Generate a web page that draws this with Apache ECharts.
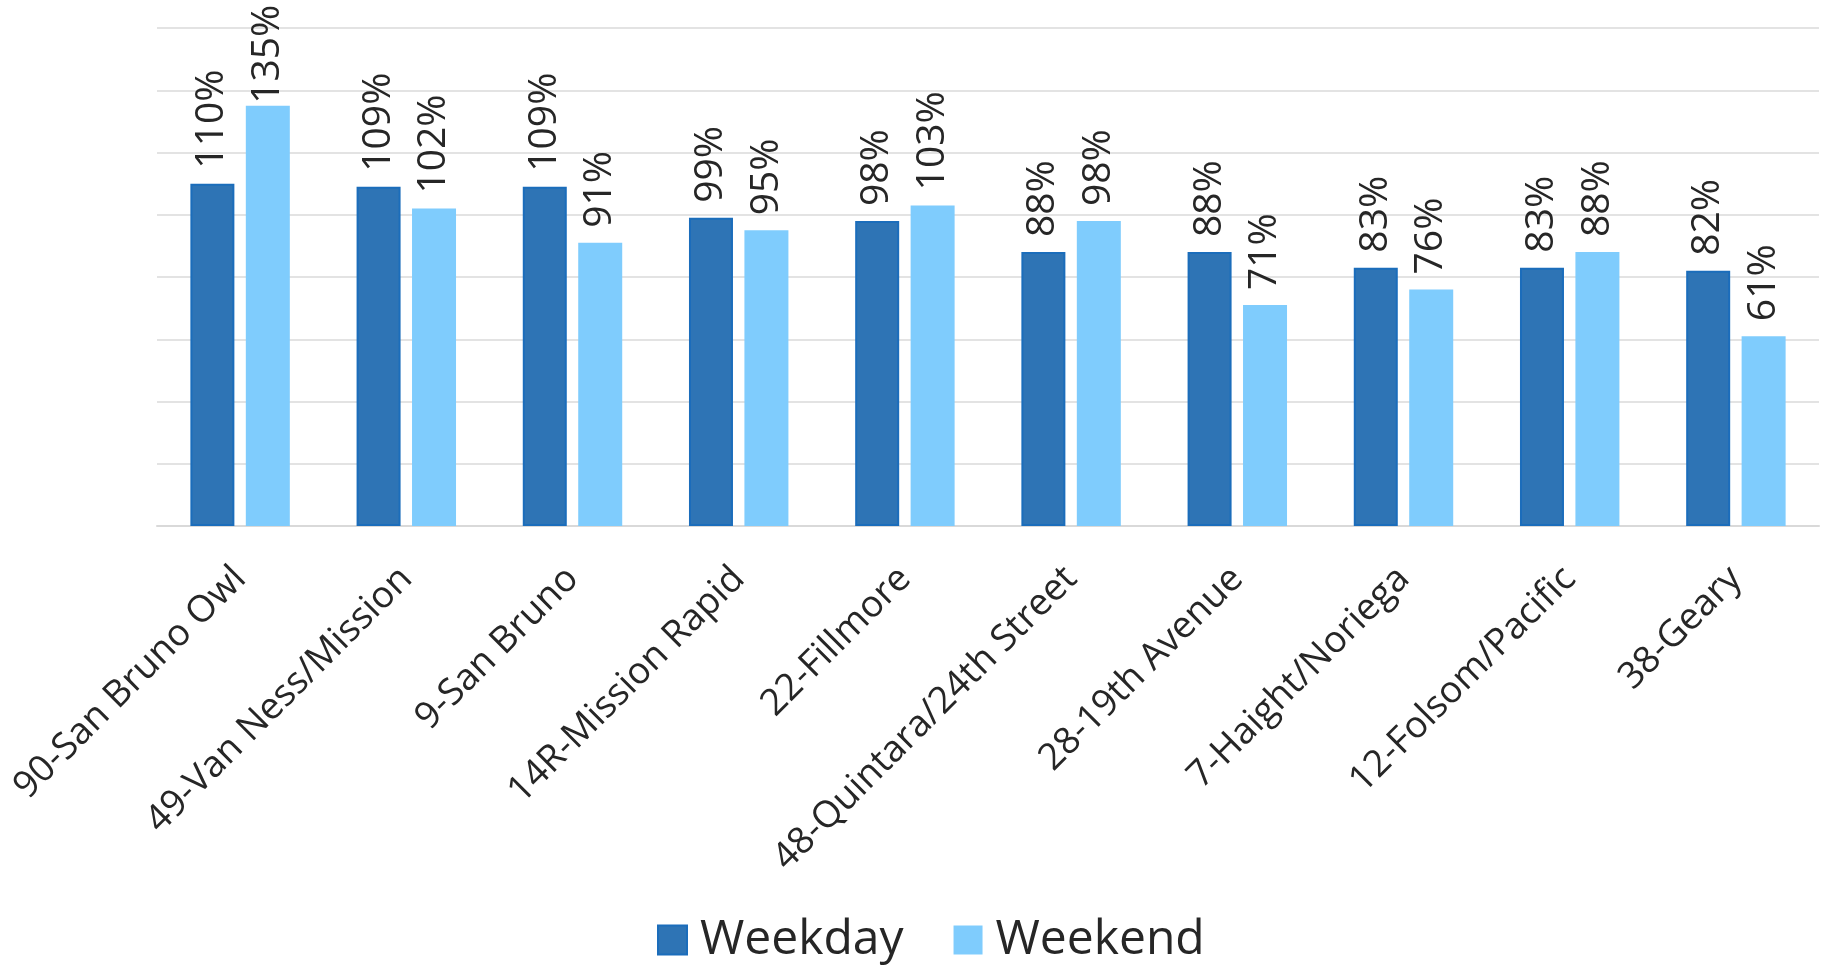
<!DOCTYPE html>
<html>
<head>
<meta charset="utf-8">
<script src="https://cdn.jsdelivr.net/npm/echarts@6/dist/echarts.min.js"></script>
<style>
html,body{margin:0;padding:0;background:#fff;}
#chart{width:1826px;height:969px;}
</style>
</head>
<body>
<div id="chart"></div>
<script>
const categories = ['90-San Bruno Owl','49-Van Ness/Mission','9-San Bruno','14R-Mission Rapid','22-Fillmore','48-Quintara/24th Street','28-19th Avenue','7-Haight/Noriega','12-Folsom/Pacific','38-Geary'];
const weekday = [110,109,109,99,98,88,88,83,83,82];
const weekend = [135,102,91,95,103,98,71,76,88,61];
const seriesNames = ['Weekday','Weekend'];

const FONT = '"Open Sans", "Noto Sans", sans-serif';
const LABEL_SIZE = 39;
const LABEL_DIST = 15;
const labelCfg = {
  show: true, position: 'top', rotate: 90, align: 'left', verticalAlign: 'middle',
  distance: LABEL_DIST, formatter: '{c}%', fontSize: LABEL_SIZE, color: '#262626', fontFamily: FONT
};
const chart = echarts.init(document.getElementById('chart'));
function build(wdData, weData) {
  return {
    animation: false,
    grid: {left: 157, right: 7, top: 28, bottom: 443, containLabel: false},
    legend: {
      data: seriesNames, bottom: 0, left: 652, itemWidth: 29, itemHeight: 29, itemGap: 50,
      icon: 'rect',
      textStyle: {fontSize: 48, color: '#262626', fontFamily: FONT, padding: [0,0,0,8]}
    },
    xAxis: {
      type: 'category', data: categories,
      axisLine: {lineStyle: {color: '#d9d9d9', width: 2}},
      axisTick: {show: false},
      axisLabel: {rotate: 45, margin: 47, fontSize: 37, color: '#262626', fontFamily: FONT, interval: 0}
    },
    yAxis: {
      type: 'value', min: 0, max: 160, interval: 20,
      axisLabel: {show: false}, axisLine: {show: false}, axisTick: {show: false},
      splitLine: {lineStyle: {color: '#e3e3e3', width: 2}}
    },
    series: [
      {name: seriesNames[0], type: 'bar', data: wdData, barWidth: 44, barGap: '26%',
       itemStyle: {color: '#2e74b5', borderColor: '#1b6dbb', borderWidth: 2}, label: labelCfg},
      {name: seriesNames[1], type: 'bar', data: weData, barWidth: 44,
       itemStyle: {color: '#7fccfd'}, label: labelCfg}
    ]
  };
}
chart.setOption(build(weekday, weekend));

// Keep value labels inside the canvas: shorten the label distance when a label would run off the top.
const ctx = document.createElement('canvas').getContext('2d');
ctx.font = LABEL_SIZE + 'px ' + FONT;
function fit(values) {
  return values.map(function (v, i) {
    const top = chart.convertToPixel({gridIndex: 0}, [i, v])[1];
    const w = ctx.measureText(v + '%').width;
    const room = top - 6 - w;
    if (room < LABEL_DIST) {
      return {value: v, label: {distance: Math.max(2, room)}};
    }
    return v;
  });
}
chart.setOption(build(fit(weekday), fit(weekend)));
</script>
</body>
</html>
